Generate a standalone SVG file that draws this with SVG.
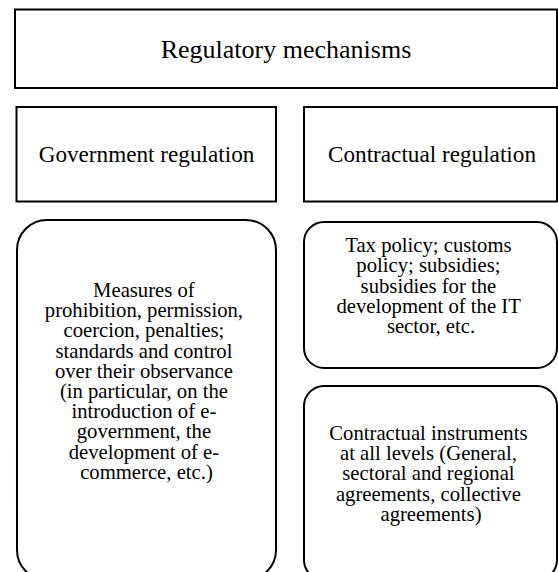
<svg xmlns="http://www.w3.org/2000/svg" width="558" height="572" viewBox="0 0 558 572">
<style>
.box{fill:#fff;stroke:#000;stroke-width:2}
text{fill:#000;text-anchor:middle}
.t{font-size:26px}
.h{font-size:23.2px}
.b{font-size:20.7px}
</style>
<rect width="558" height="572" fill="#fff"/>
<g id="regulatory-mechanisms">
<rect class="box" x="15" y="9.5" width="542" height="78.5"/>
<text class="t" style="font-family:'Liberation Serif',serif" x="286" y="58">Regulatory mechanisms</text>
</g>
<g id="government-regulation">
<rect class="box" x="16.5" y="107" width="259.5" height="94.5"/>
<text class="h" style="font-family:'Liberation Serif',serif" x="146.5" y="162">Government regulation</text>
</g>
<g id="contractual-regulation">
<rect class="box" x="304" y="107" width="253" height="94.5"/>
<text class="h" style="font-family:'Liberation Serif',serif" x="432" y="162">Contractual regulation</text>
</g>
<g id="government-measures">
<rect class="box" x="17" y="220" width="259" height="360" rx="30" ry="30"/>
<text class="b" style="font-family:'Liberation Serif',serif">
<tspan x="146.5" y="297">Measures of</tspan>
<tspan x="146.5" y="317.2">prohibition, permission,</tspan>
<tspan x="146.5" y="337.4">coercion, penalties;</tspan>
<tspan x="146.5" y="357.6">standards and control</tspan>
<tspan x="146.5" y="377.8">over their observance</tspan>
<tspan x="146.5" y="398">(in particular, on the</tspan>
<tspan x="146.5" y="418.2">introduction of e-</tspan>
<tspan x="146.5" y="438.4">government, the</tspan>
<tspan x="146.5" y="458.6">development of e-</tspan>
<tspan x="146.5" y="478.8">commerce, etc.)</tspan>
</text>
</g>
<g id="tax-policy">
<rect class="box" x="304" y="222" width="253" height="146" rx="20" ry="20"/>
<text class="b" style="font-family:'Liberation Serif',serif">
<tspan x="431" y="252">Tax policy; customs</tspan>
<tspan x="431" y="272.3">policy; subsidies;</tspan>
<tspan x="431" y="292.6">subsidies for the</tspan>
<tspan x="431" y="312.9">development of the IT</tspan>
<tspan x="431" y="333.2">sector, etc.</tspan>
</text>
</g>
<g id="contractual-instruments">
<rect class="box" x="304" y="386" width="253" height="194" rx="20" ry="20"/>
<text class="b" style="font-family:'Liberation Serif',serif">
<tspan x="431" y="440">Contractual instruments</tspan>
<tspan x="431" y="460.2">at all levels (General,</tspan>
<tspan x="431" y="480.4">sectoral and regional</tspan>
<tspan x="431" y="500.6">agreements, collective</tspan>
<tspan x="431" y="520.8">agreements)</tspan>
</text>
</g>
<g id="connectors"></g>
</svg>
